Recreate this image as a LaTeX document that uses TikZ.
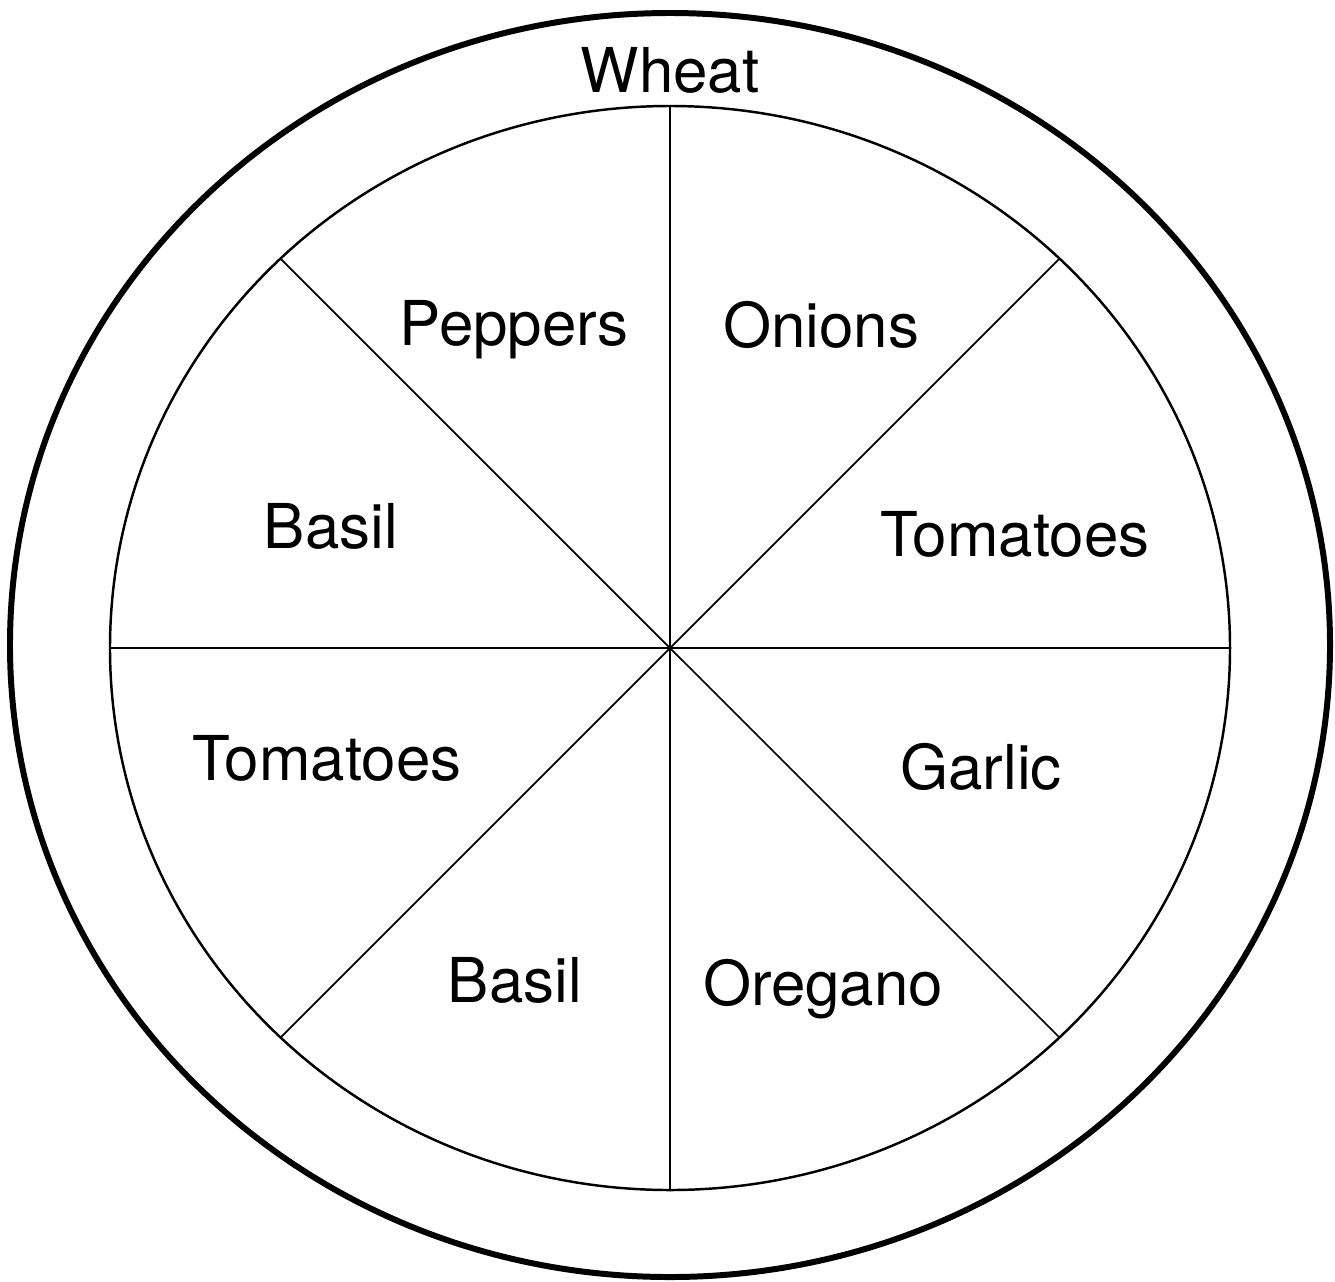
\documentclass[tikz,border=0pt]{standalone}
\usepackage{fontspec}
\setmainfont{TeX Gyre Heros}
\usepackage{tikz}
\usetikzlibrary{shapes.geometric}

\begin{document}
\begin{tikzpicture}[
  rim/.style={ellipse,draw=black,line width=1.7pt,inner sep=0pt,outer sep=0pt,
              minimum width=13.2cm,minimum height=12.64cm},
  bed/.style={ellipse,draw=black,line width=0.7pt,inner sep=0pt,outer sep=0pt,
              minimum width=11.2cm,minimum height=10.84cm},
  spoke/.style={line width=0.5pt,black},
  crop/.style={anchor=base,inner sep=0pt,font=\fontsize{17.6}{20}\selectfont}
]
\useasboundingbox (-6.70,-6.33) rectangle (6.65,6.48);
\node[rim] (garden) at (0,0.03) {};
\node[bed] (pie) at (0,0) {};
\foreach \a in {0,45,...,315}
  \draw[spoke] (pie.center) -- (pie.\a);
\node[crop] (wheat) at (0,5.56) {Wheat};
\node[crop] (peppers) at (-1.56,3.03) {Peppers};
\node[crop] (onions) at (1.51,3.01) {Onions};
\node[crop] (basilA) at (-3.39,1.00) {Basil};
\node[crop] (tomatoesA) at (3.45,0.92) {Tomatoes};
\node[crop] (tomatoesB) at (-3.43,-1.32) {Tomatoes};
\node[crop] (garlic) at (3.11,-1.41) {Garlic};
\node[crop] (basilB) at (-1.55,-3.54) {Basil};
\node[crop] (oregano) at (1.53,-3.57) {Oregano};
\end{tikzpicture}
\end{document}
